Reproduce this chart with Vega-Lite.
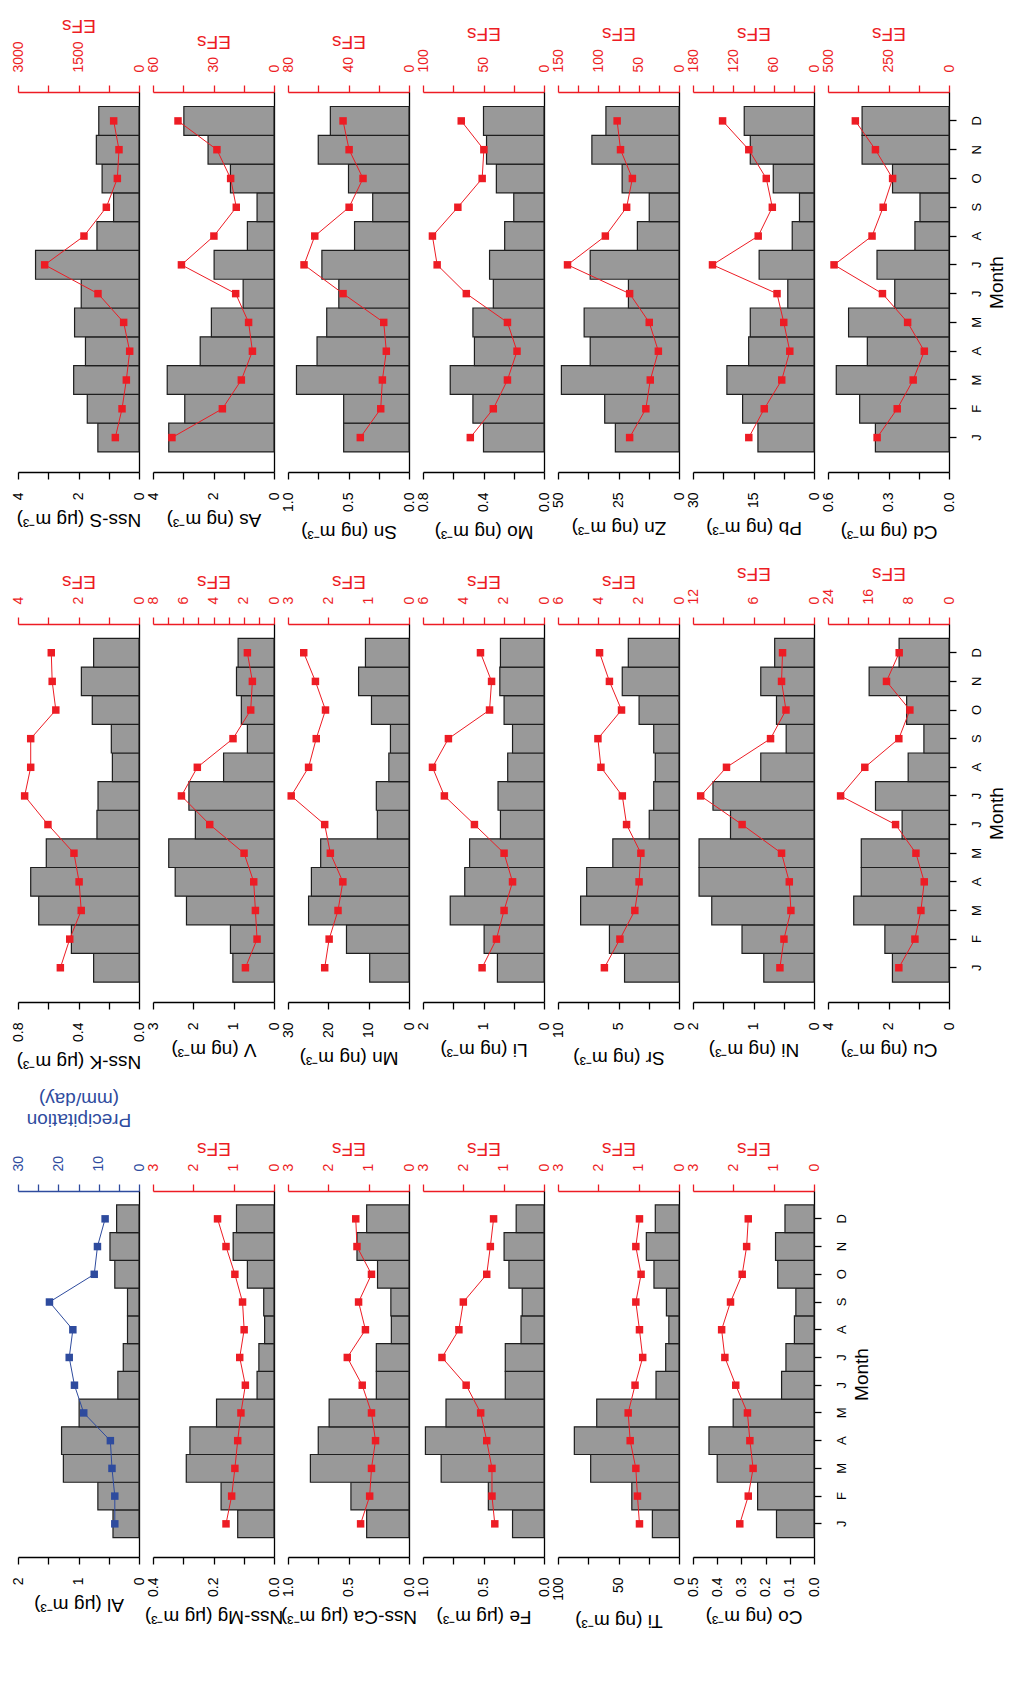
{
  "$schema": "https://vega.github.io/schema/vega-lite/v6.json",
  "background": "white",
  "autosize": {"type": "pad"},
  "padding": {"left": 10, "top": 15, "right": 0, "bottom": 0},
  "datasets": {
    "Al": [{"m":1,"v":0.43,"f":6.0},{"m":2,"v":0.68,"f":6.0},{"m":3,"v":1.25,"f":6.7},{"m":4,"v":1.28,"f":7.1},{"m":5,"v":0.99,"f":13.7},{"m":6,"v":0.35,"f":16.0},{"m":7,"v":0.26,"f":17.3},{"m":8,"v":0.19,"f":16.4},{"m":9,"v":0.19,"f":22.2},{"m":10,"v":0.40,"f":11.1},{"m":11,"v":0.48,"f":10.3},{"m":12,"v":0.37,"f":8.4}],
    "Nss-Mg": [{"m":1,"v":0.12,"f":1.19},{"m":2,"v":0.175,"f":1.05},{"m":3,"v":0.29,"f":0.97},{"m":4,"v":0.278,"f":0.90},{"m":5,"v":0.19,"f":0.82},{"m":6,"v":0.056,"f":0.71},{"m":7,"v":0.05,"f":0.85},{"m":8,"v":0.031,"f":0.74},{"m":9,"v":0.034,"f":0.78},{"m":10,"v":0.088,"f":0.97},{"m":11,"v":0.135,"f":1.19},{"m":12,"v":0.124,"f":1.40}],
    "Nss-Ca": [{"m":1,"v":0.35,"f":1.20},{"m":2,"v":0.48,"f":0.975},{"m":3,"v":0.815,"f":0.93},{"m":4,"v":0.75,"f":0.83},{"m":5,"v":0.66,"f":0.93},{"m":6,"v":0.27,"f":1.16},{"m":7,"v":0.27,"f":1.53},{"m":8,"v":0.146,"f":1.08},{"m":9,"v":0.15,"f":1.25},{"m":10,"v":0.26,"f":0.93},{"m":11,"v":0.43,"f":1.29},{"m":12,"v":0.35,"f":1.32}],
    "Fe": [{"m":1,"v":0.26,"f":1.22},{"m":2,"v":0.46,"f":1.29},{"m":3,"v":0.85,"f":1.29},{"m":4,"v":0.98,"f":1.42},{"m":5,"v":0.81,"f":1.57},{"m":6,"v":0.32,"f":1.93},{"m":7,"v":0.32,"f":2.53},{"m":8,"v":0.19,"f":2.11},{"m":9,"v":0.18,"f":2.0},{"m":10,"v":0.29,"f":1.42},{"m":11,"v":0.33,"f":1.33},{"m":12,"v":0.23,"f":1.25}],
    "Ti": [{"m":1,"v":22,"f":0.98},{"m":2,"v":39,"f":1.03},{"m":3,"v":73,"f":1.07},{"m":4,"v":86.5,"f":1.21},{"m":5,"v":68,"f":1.26},{"m":6,"v":19,"f":1.09},{"m":7,"v":11,"f":0.90},{"m":8,"v":8.4,"f":0.98},{"m":9,"v":10.4,"f":1.07},{"m":10,"v":20.7,"f":0.94},{"m":11,"v":27,"f":1.07},{"m":12,"v":19.6,"f":0.98}],
    "Co": [{"m":1,"v":0.155,"f":1.84},{"m":2,"v":0.233,"f":1.63},{"m":3,"v":0.40,"f":1.51},{"m":4,"v":0.434,"f":1.59},{"m":5,"v":0.334,"f":1.65},{"m":6,"v":0.134,"f":1.94},{"m":7,"v":0.116,"f":2.21},{"m":8,"v":0.081,"f":2.29},{"m":9,"v":0.075,"f":2.07},{"m":10,"v":0.15,"f":1.78},{"m":11,"v":0.159,"f":1.67},{"m":12,"v":0.12,"f":1.63}],
    "Nss-K": [{"m":1,"v":0.30,"f":2.60},{"m":2,"v":0.447,"f":2.29},{"m":3,"v":0.663,"f":1.91},{"m":4,"v":0.716,"f":1.98},{"m":5,"v":0.613,"f":2.15},{"m":6,"v":0.278,"f":3.01},{"m":7,"v":0.271,"f":3.78},{"m":8,"v":0.176,"f":3.58},{"m":9,"v":0.183,"f":3.58},{"m":10,"v":0.309,"f":2.75},{"m":11,"v":0.381,"f":2.87},{"m":12,"v":0.30,"f":2.90}],
    "V": [{"m":1,"v":1.02,"f":1.89},{"m":2,"v":1.08,"f":1.12},{"m":3,"v":2.17,"f":1.23},{"m":4,"v":2.45,"f":1.34},{"m":5,"v":2.61,"f":1.98},{"m":6,"v":1.95,"f":4.25},{"m":7,"v":2.11,"f":6.12},{"m":8,"v":1.25,"f":5.07},{"m":9,"v":0.66,"f":2.71},{"m":10,"v":0.81,"f":1.54},{"m":11,"v":0.93,"f":1.43},{"m":12,"v":0.89,"f":1.76}],
    "Mn": [{"m":1,"v":9.75,"f":2.09},{"m":2,"v":15.5,"f":1.98},{"m":3,"v":24.9,"f":1.76},{"m":4,"v":24.2,"f":1.64},{"m":5,"v":21.9,"f":1.95},{"m":6,"v":7.85,"f":2.09},{"m":7,"v":8.1,"f":2.92},{"m":8,"v":5.0,"f":2.49},{"m":9,"v":4.6,"f":2.30},{"m":10,"v":9.3,"f":2.07},{"m":11,"v":12.5,"f":2.32},{"m":12,"v":10.8,"f":2.61}],
    "Li": [{"m":1,"v":0.77,"f":3.07},{"m":2,"v":0.99,"f":2.36},{"m":3,"v":1.55,"f":1.98},{"m":4,"v":1.31,"f":1.56},{"m":5,"v":1.23,"f":1.98},{"m":6,"v":0.72,"f":3.45},{"m":7,"v":0.76,"f":4.94},{"m":8,"v":0.60,"f":5.53},{"m":9,"v":0.52,"f":4.74},{"m":10,"v":0.66,"f":2.70},{"m":11,"v":0.73,"f":2.60},{"m":12,"v":0.72,"f":3.15}],
    "Sr": [{"m":1,"v":4.5,"f":3.70},{"m":2,"v":5.75,"f":2.93},{"m":3,"v":8.13,"f":2.19},{"m":4,"v":7.63,"f":1.98},{"m":5,"v":5.47,"f":1.89},{"m":6,"v":2.46,"f":2.60},{"m":7,"v":2.09,"f":2.81},{"m":8,"v":1.96,"f":3.87},{"m":9,"v":2.09,"f":4.02},{"m":10,"v":3.30,"f":2.85},{"m":11,"v":4.69,"f":3.45},{"m":12,"v":4.19,"f":3.94}],
    "Ni": [{"m":1,"v":0.83,"f":3.38},{"m":2,"v":1.19,"f":2.98},{"m":3,"v":1.69,"f":2.29},{"m":4,"v":1.90,"f":2.45},{"m":5,"v":1.90,"f":3.22},{"m":6,"v":1.38,"f":7.13},{"m":7,"v":1.67,"f":11.24},{"m":8,"v":0.88,"f":8.68},{"m":9,"v":0.46,"f":4.31},{"m":10,"v":0.62,"f":2.78},{"m":11,"v":0.88,"f":3.22},{"m":12,"v":0.65,"f":3.12}],
    "Cu": [{"m":1,"v":1.87,"f":9.95},{"m":2,"v":2.12,"f":6.76},{"m":3,"v":3.15,"f":5.57},{"m":4,"v":2.90,"f":4.91},{"m":5,"v":2.90,"f":6.56},{"m":6,"v":1.55,"f":10.6},{"m":7,"v":2.43,"f":21.5},{"m":8,"v":1.35,"f":16.7},{"m":9,"v":0.83,"f":9.95},{"m":10,"v":1.40,"f":7.76},{"m":11,"v":2.64,"f":12.4},{"m":12,"v":1.65,"f":9.88}],
    "Nss-S": [{"m":1,"v":1.36,"f":587},{"m":2,"v":1.71,"f":421},{"m":3,"v":2.16,"f":314},{"m":4,"v":1.77,"f":231},{"m":5,"v":2.13,"f":380},{"m":6,"v":1.91,"f":1017},{"m":7,"v":3.42,"f":2339},{"m":8,"v":1.39,"f":1364},{"m":9,"v":0.84,"f":810},{"m":10,"v":1.22,"f":537},{"m":11,"v":1.41,"f":496},{"m":12,"v":1.33,"f":628}],
    "As": [{"m":1,"v":3.48,"f":50.6},{"m":2,"v":2.95,"f":25.6},{"m":3,"v":3.53,"f":16.2},{"m":4,"v":2.44,"f":10.7},{"m":5,"v":2.07,"f":12.6},{"m":6,"v":1.02,"f":19.0},{"m":7,"v":1.98,"f":45.9},{"m":8,"v":0.88,"f":29.8},{"m":9,"v":0.56,"f":18.7},{"m":10,"v":1.44,"f":21.5},{"m":11,"v":2.18,"f":28.3},{"m":12,"v":2.98,"f":47.6}],
    "Sn": [{"m":1,"v":0.54,"f":32.2},{"m":2,"v":0.54,"f":18.7},{"m":3,"v":0.93,"f":17.6},{"m":4,"v":0.76,"f":15.0},{"m":5,"v":0.68,"f":16.7},{"m":6,"v":0.58,"f":43.6},{"m":7,"v":0.72,"f":69.4},{"m":8,"v":0.45,"f":62.3},{"m":9,"v":0.30,"f":39.6},{"m":10,"v":0.50,"f":30.4},{"m":11,"v":0.75,"f":39.6},{"m":12,"v":0.65,"f":43.6}],
    "Mo": [{"m":1,"v":0.40,"f":60.9},{"m":2,"v":0.47,"f":41.9},{"m":3,"v":0.62,"f":30.2},{"m":4,"v":0.46,"f":22.3},{"m":5,"v":0.47,"f":30.2},{"m":6,"v":0.335,"f":64.2},{"m":7,"v":0.36,"f":88.3},{"m":8,"v":0.26,"f":92.2},{"m":9,"v":0.20,"f":71.2},{"m":10,"v":0.315,"f":51.1},{"m":11,"v":0.38,"f":49.7},{"m":12,"v":0.40,"f":68.4}],
    "Zn": [{"m":1,"v":26.3,"f":61.2},{"m":2,"v":30.7,"f":41.1},{"m":3,"v":48.6,"f":35.6},{"m":4,"v":36.7,"f":25.6},{"m":5,"v":39.2,"f":36.9},{"m":6,"v":20.9,"f":61.2},{"m":7,"v":36.7,"f":138.2},{"m":8,"v":17.2,"f":91.3},{"m":9,"v":12.3,"f":64.9},{"m":10,"v":23.5,"f":57.8},{"m":11,"v":36.0,"f":72.5},{"m":12,"v":30.2,"f":76.7}],
    "Pb": [{"m":1,"v":13.9,"f":97},{"m":2,"v":17.7,"f":74},{"m":3,"v":21.6,"f":48},{"m":4,"v":16.2,"f":36},{"m":5,"v":15.8,"f":45},{"m":6,"v":6.5,"f":55},{"m":7,"v":13.6,"f":151},{"m":8,"v":5.4,"f":83},{"m":9,"v":3.6,"f":62},{"m":10,"v":10.1,"f":71},{"m":11,"v":15.8,"f":97},{"m":12,"v":17.3,"f":136}],
    "Cd": [{"m":1,"v":0.365,"f":297},{"m":2,"v":0.443,"f":214},{"m":3,"v":0.559,"f":148},{"m":4,"v":0.405,"f":102},{"m":5,"v":0.498,"f":171},{"m":6,"v":0.269,"f":275},{"m":7,"v":0.357,"f":475},{"m":8,"v":0.169,"f":318},{"m":9,"v":0.144,"f":272},{"m":10,"v":0.280,"f":233},{"m":11,"v":0.431,"f":304},{"m":12,"v":0.431,"f":387}]
  },
  "spacing": 22,
  "vconcat": [
    {
      "spacing": 14,
      "bounds": "flush",
      "hconcat": [
        {"width": 121, "height": 380, "data": {"name": "Nss-S"}, "resolve": {"scale": {"x": "independent"}}, "layer": [
          {"mark": {"type": "bar", "fill": "#999999", "stroke": "#1e1e1e", "strokeWidth": 1.2},
           "encoding": {"y": {"field": "m", "type": "ordinal", "sort": "descending", "title": null, "scale": {"paddingInner": 0, "paddingOuter": 0.6, "align": 0.42}, "axis": {"orient": "right"}},
                        "x": {"field": "v", "type": "quantitative", "title": "Nss-S (μg m⁻³)", "scale": {"domain": [0, 4], "reverse": true, "nice": false}, "axis": {"orient": "bottom", "values": [0, 1, 2, 3, 4], "format": "d", "labelExpr": "round(datum.value*1000) % 2000 === 0 ? datum.label : ''"}}}},
          {"mark": {"type": "line", "color": "#ED1C24", "strokeWidth": 1, "point": {"shape": "square", "size": 56, "color": "#ED1C24", "filled": true, "opacity": 1}},
           "encoding": {"y": {"field": "m", "type": "ordinal", "sort": "descending", "title": null, "axis": {"orient": "right"}},
                        "x": {"field": "f", "type": "quantitative", "title": "EFs", "scale": {"domain": [0, 3000], "reverse": true, "nice": false}, "axis": {"orient": "top", "values": [0, 750, 1500, 2250, 3000], "format": "d", "labelExpr": "round(datum.value) % 1500 === 0 ? datum.label : ''"}}}}
        ]},
        {"width": 121, "height": 380, "data": {"name": "As"}, "resolve": {"scale": {"x": "independent"}}, "layer": [
          {"mark": {"type": "bar", "fill": "#999999", "stroke": "#1e1e1e", "strokeWidth": 1.2},
           "encoding": {"y": {"field": "m", "type": "ordinal", "sort": "descending", "title": null, "scale": {"paddingInner": 0, "paddingOuter": 0.6, "align": 0.42}, "axis": {"orient": "right"}},
                        "x": {"field": "v", "type": "quantitative", "title": "As (ng m⁻³)", "scale": {"domain": [0, 4], "reverse": true, "nice": false}, "axis": {"orient": "bottom", "values": [0, 1, 2, 3, 4], "format": "d", "labelExpr": "round(datum.value*1000) % 2000 === 0 ? datum.label : ''"}}}},
          {"mark": {"type": "line", "color": "#ED1C24", "strokeWidth": 1, "point": {"shape": "square", "size": 56, "color": "#ED1C24", "filled": true, "opacity": 1}},
           "encoding": {"y": {"field": "m", "type": "ordinal", "sort": "descending", "title": null, "axis": {"orient": "right"}},
                        "x": {"field": "f", "type": "quantitative", "title": "EFs", "scale": {"domain": [0, 60], "reverse": true, "nice": false}, "axis": {"orient": "top", "values": [0, 15, 30, 45, 60], "format": "d", "labelExpr": "round(datum.value) % 30 === 0 ? datum.label : ''"}}}}
        ]},
        {"width": 121, "height": 380, "data": {"name": "Sn"}, "resolve": {"scale": {"x": "independent"}}, "layer": [
          {"mark": {"type": "bar", "fill": "#999999", "stroke": "#1e1e1e", "strokeWidth": 1.2},
           "encoding": {"y": {"field": "m", "type": "ordinal", "sort": "descending", "title": null, "scale": {"paddingInner": 0, "paddingOuter": 0.6, "align": 0.42}, "axis": {"orient": "right"}},
                        "x": {"field": "v", "type": "quantitative", "title": "Sn (ng m⁻³)", "scale": {"domain": [0, 1], "reverse": true, "nice": false}, "axis": {"orient": "bottom", "values": [0, 0.25, 0.5, 0.75, 1], "format": ".1f", "labelExpr": "round(datum.value*1000) % 500 === 0 ? datum.label : ''"}}}},
          {"mark": {"type": "line", "color": "#ED1C24", "strokeWidth": 1, "point": {"shape": "square", "size": 56, "color": "#ED1C24", "filled": true, "opacity": 1}},
           "encoding": {"y": {"field": "m", "type": "ordinal", "sort": "descending", "title": null, "axis": {"orient": "right"}},
                        "x": {"field": "f", "type": "quantitative", "title": "EFs", "scale": {"domain": [0, 80], "reverse": true, "nice": false}, "axis": {"orient": "top", "values": [0, 20, 40, 60, 80], "format": "d", "labelExpr": "round(datum.value) % 40 === 0 ? datum.label : ''"}}}}
        ]},
        {"width": 121, "height": 380, "data": {"name": "Mo"}, "resolve": {"scale": {"x": "independent"}}, "layer": [
          {"mark": {"type": "bar", "fill": "#999999", "stroke": "#1e1e1e", "strokeWidth": 1.2},
           "encoding": {"y": {"field": "m", "type": "ordinal", "sort": "descending", "title": null, "scale": {"paddingInner": 0, "paddingOuter": 0.6, "align": 0.42}, "axis": {"orient": "right"}},
                        "x": {"field": "v", "type": "quantitative", "title": "Mo (ng m⁻³)", "scale": {"domain": [0, 0.8], "reverse": true, "nice": false}, "axis": {"orient": "bottom", "values": [0, 0.2, 0.4, 0.6, 0.8], "format": ".1f", "labelExpr": "round(datum.value*1000) % 400 === 0 ? datum.label : ''"}}}},
          {"mark": {"type": "line", "color": "#ED1C24", "strokeWidth": 1, "point": {"shape": "square", "size": 56, "color": "#ED1C24", "filled": true, "opacity": 1}},
           "encoding": {"y": {"field": "m", "type": "ordinal", "sort": "descending", "title": null, "axis": {"orient": "right"}},
                        "x": {"field": "f", "type": "quantitative", "title": "EFs", "scale": {"domain": [0, 100], "reverse": true, "nice": false}, "axis": {"orient": "top", "values": [0, 25, 50, 75, 100], "format": "d", "labelExpr": "round(datum.value) % 50 === 0 ? datum.label : ''"}}}}
        ]},
        {"width": 121, "height": 380, "data": {"name": "Zn"}, "resolve": {"scale": {"x": "independent"}}, "layer": [
          {"mark": {"type": "bar", "fill": "#999999", "stroke": "#1e1e1e", "strokeWidth": 1.2},
           "encoding": {"y": {"field": "m", "type": "ordinal", "sort": "descending", "title": null, "scale": {"paddingInner": 0, "paddingOuter": 0.6, "align": 0.42}, "axis": {"orient": "right"}},
                        "x": {"field": "v", "type": "quantitative", "title": "Zn (ng m⁻³)", "scale": {"domain": [0, 50], "reverse": true, "nice": false}, "axis": {"orient": "bottom", "values": [0, 12.5, 25, 37.5, 50], "format": "d", "labelExpr": "round(datum.value*1000) % 25000 === 0 ? datum.label : ''"}}}},
          {"mark": {"type": "line", "color": "#ED1C24", "strokeWidth": 1, "point": {"shape": "square", "size": 56, "color": "#ED1C24", "filled": true, "opacity": 1}},
           "encoding": {"y": {"field": "m", "type": "ordinal", "sort": "descending", "title": null, "axis": {"orient": "right"}},
                        "x": {"field": "f", "type": "quantitative", "title": "EFs", "scale": {"domain": [0, 150], "reverse": true, "nice": false}, "axis": {"orient": "top", "values": [0, 25, 50, 75, 100, 125, 150], "format": "d", "labelExpr": "round(datum.value) % 50 === 0 ? datum.label : ''"}}}}
        ]},
        {"width": 121, "height": 380, "data": {"name": "Pb"}, "resolve": {"scale": {"x": "independent"}}, "layer": [
          {"mark": {"type": "bar", "fill": "#999999", "stroke": "#1e1e1e", "strokeWidth": 1.2},
           "encoding": {"y": {"field": "m", "type": "ordinal", "sort": "descending", "title": null, "scale": {"paddingInner": 0, "paddingOuter": 0.6, "align": 0.42}, "axis": {"orient": "right"}},
                        "x": {"field": "v", "type": "quantitative", "title": "Pb (ng m⁻³)", "scale": {"domain": [0, 30], "reverse": true, "nice": false}, "axis": {"orient": "bottom", "values": [0, 7.5, 15, 22.5, 30], "format": "d", "labelExpr": "round(datum.value*1000) % 15000 === 0 ? datum.label : ''"}}}},
          {"mark": {"type": "line", "color": "#ED1C24", "strokeWidth": 1, "point": {"shape": "square", "size": 56, "color": "#ED1C24", "filled": true, "opacity": 1}},
           "encoding": {"y": {"field": "m", "type": "ordinal", "sort": "descending", "title": null, "axis": {"orient": "right"}},
                        "x": {"field": "f", "type": "quantitative", "title": "EFs", "scale": {"domain": [0, 180], "reverse": true, "nice": false}, "axis": {"orient": "top", "values": [0, 30, 60, 90, 120, 150, 180], "format": "d", "labelExpr": "round(datum.value) % 60 === 0 ? datum.label : ''"}}}}
        ]},
        {"width": 121, "height": 380, "data": {"name": "Cd"}, "resolve": {"scale": {"x": "independent"}}, "layer": [
          {"mark": {"type": "bar", "fill": "#999999", "stroke": "#1e1e1e", "strokeWidth": 1.2},
           "encoding": {"y": {"field": "m", "type": "ordinal", "sort": "descending", "title": "Month", "scale": {"paddingInner": 0, "paddingOuter": 0.6, "align": 0.42}, "axis": {"orient": "right", "labels": true, "ticks": true, "labelPadding": 14, "labelFontSize": 13, "labelExpr": "['J','F','M','A','M','J','J','A','S','O','N','D'][+datum.value - 1]"}},
                        "x": {"field": "v", "type": "quantitative", "title": "Cd (ng m⁻³)", "scale": {"domain": [0, 0.6], "reverse": true, "nice": false}, "axis": {"orient": "bottom", "values": [0, 0.15, 0.3, 0.45, 0.6], "format": ".1f", "labelExpr": "round(datum.value*1000) % 300 === 0 ? datum.label : ''"}}}},
          {"mark": {"type": "line", "color": "#ED1C24", "strokeWidth": 1, "point": {"shape": "square", "size": 56, "color": "#ED1C24", "filled": true, "opacity": 1}},
           "encoding": {"y": {"field": "m", "type": "ordinal", "sort": "descending", "title": "Month", "axis": {"orient": "right", "labels": true, "ticks": true, "labelPadding": 14, "labelFontSize": 13, "labelExpr": "['J','F','M','A','M','J','J','A','S','O','N','D'][+datum.value - 1]"}},
                        "x": {"field": "f", "type": "quantitative", "title": "EFs", "scale": {"domain": [0, 500], "reverse": true, "nice": false}, "axis": {"orient": "top", "values": [0, 125, 250, 375, 500], "format": "d", "labelExpr": "round(datum.value) % 250 === 0 ? datum.label : ''"}}}}
        ]}
      ]
    },
    {
      "spacing": 17,
      "vconcat": [
        {
          "spacing": 14,
          "bounds": "flush",
          "hconcat": [
            {"width": 121, "height": 378, "data": {"name": "Nss-K"}, "resolve": {"scale": {"x": "independent"}}, "layer": [
              {"mark": {"type": "bar", "fill": "#999999", "stroke": "#1e1e1e", "strokeWidth": 1.2},
               "encoding": {"y": {"field": "m", "type": "ordinal", "sort": "descending", "title": null, "scale": {"paddingInner": 0, "paddingOuter": 0.6, "align": 0.42}, "axis": {"orient": "right"}},
                            "x": {"field": "v", "type": "quantitative", "title": "Nss-K (μg m⁻³)", "scale": {"domain": [0, 0.8], "reverse": true, "nice": false}, "axis": {"orient": "bottom", "values": [0, 0.2, 0.4, 0.6, 0.8], "format": ".1f", "labelExpr": "round(datum.value*1000) % 400 === 0 ? datum.label : ''"}}}},
              {"mark": {"type": "line", "color": "#ED1C24", "strokeWidth": 1, "point": {"shape": "square", "size": 56, "color": "#ED1C24", "filled": true, "opacity": 1}},
               "encoding": {"y": {"field": "m", "type": "ordinal", "sort": "descending", "title": null, "axis": {"orient": "right"}},
                            "x": {"field": "f", "type": "quantitative", "title": "EFs", "scale": {"domain": [0, 4], "reverse": true, "nice": false}, "axis": {"orient": "top", "values": [0, 1, 2, 3, 4], "format": "d", "labelExpr": "round(datum.value) % 2 === 0 ? datum.label : ''"}}}}
            ]},
            {"width": 121, "height": 378, "data": {"name": "V"}, "resolve": {"scale": {"x": "independent"}}, "layer": [
              {"mark": {"type": "bar", "fill": "#999999", "stroke": "#1e1e1e", "strokeWidth": 1.2},
               "encoding": {"y": {"field": "m", "type": "ordinal", "sort": "descending", "title": null, "scale": {"paddingInner": 0, "paddingOuter": 0.6, "align": 0.42}, "axis": {"orient": "right"}},
                            "x": {"field": "v", "type": "quantitative", "title": "V (ng m⁻³)", "scale": {"domain": [0, 3], "reverse": true, "nice": false}, "axis": {"orient": "bottom", "values": [0, 1, 2, 3], "format": "d"}}}},
              {"mark": {"type": "line", "color": "#ED1C24", "strokeWidth": 1, "point": {"shape": "square", "size": 56, "color": "#ED1C24", "filled": true, "opacity": 1}},
               "encoding": {"y": {"field": "m", "type": "ordinal", "sort": "descending", "title": null, "axis": {"orient": "right"}},
                            "x": {"field": "f", "type": "quantitative", "title": "EFs", "scale": {"domain": [0, 8], "reverse": true, "nice": false}, "axis": {"orient": "top", "values": [0, 1, 2, 3, 4, 5, 6, 7, 8], "format": "d", "labelExpr": "round(datum.value) % 2 === 0 ? datum.label : ''"}}}}
            ]},
            {"width": 121, "height": 378, "data": {"name": "Mn"}, "resolve": {"scale": {"x": "independent"}}, "layer": [
              {"mark": {"type": "bar", "fill": "#999999", "stroke": "#1e1e1e", "strokeWidth": 1.2},
               "encoding": {"y": {"field": "m", "type": "ordinal", "sort": "descending", "title": null, "scale": {"paddingInner": 0, "paddingOuter": 0.6, "align": 0.42}, "axis": {"orient": "right"}},
                            "x": {"field": "v", "type": "quantitative", "title": "Mn (ng m⁻³)", "scale": {"domain": [0, 30], "reverse": true, "nice": false}, "axis": {"orient": "bottom", "values": [0, 10, 20, 30], "format": "d"}}}},
              {"mark": {"type": "line", "color": "#ED1C24", "strokeWidth": 1, "point": {"shape": "square", "size": 56, "color": "#ED1C24", "filled": true, "opacity": 1}},
               "encoding": {"y": {"field": "m", "type": "ordinal", "sort": "descending", "title": null, "axis": {"orient": "right"}},
                            "x": {"field": "f", "type": "quantitative", "title": "EFs", "scale": {"domain": [0, 3], "reverse": true, "nice": false}, "axis": {"orient": "top", "values": [0, 1, 2, 3], "format": "d"}}}}
            ]},
            {"width": 121, "height": 378, "data": {"name": "Li"}, "resolve": {"scale": {"x": "independent"}}, "layer": [
              {"mark": {"type": "bar", "fill": "#999999", "stroke": "#1e1e1e", "strokeWidth": 1.2},
               "encoding": {"y": {"field": "m", "type": "ordinal", "sort": "descending", "title": null, "scale": {"paddingInner": 0, "paddingOuter": 0.6, "align": 0.42}, "axis": {"orient": "right"}},
                            "x": {"field": "v", "type": "quantitative", "title": "Li (ng m⁻³)", "scale": {"domain": [0, 2], "reverse": true, "nice": false}, "axis": {"orient": "bottom", "values": [0, 0.5, 1, 1.5, 2], "format": ".0f", "labelExpr": "datum.value === 0.5 || datum.value === 1.5 ? '' : datum.label"}}}},
              {"mark": {"type": "line", "color": "#ED1C24", "strokeWidth": 1, "point": {"shape": "square", "size": 56, "color": "#ED1C24", "filled": true, "opacity": 1}},
               "encoding": {"y": {"field": "m", "type": "ordinal", "sort": "descending", "title": null, "axis": {"orient": "right"}},
                            "x": {"field": "f", "type": "quantitative", "title": "EFs", "scale": {"domain": [0, 6], "reverse": true, "nice": false}, "axis": {"orient": "top", "values": [0, 1, 2, 3, 4, 5, 6], "format": "d", "labelExpr": "round(datum.value) % 2 === 0 ? datum.label : ''"}}}}
            ]},
            {"width": 121, "height": 378, "data": {"name": "Sr"}, "resolve": {"scale": {"x": "independent"}}, "layer": [
              {"mark": {"type": "bar", "fill": "#999999", "stroke": "#1e1e1e", "strokeWidth": 1.2},
               "encoding": {"y": {"field": "m", "type": "ordinal", "sort": "descending", "title": null, "scale": {"paddingInner": 0, "paddingOuter": 0.6, "align": 0.42}, "axis": {"orient": "right"}},
                            "x": {"field": "v", "type": "quantitative", "title": "Sr (ng m⁻³)", "scale": {"domain": [0, 10], "reverse": true, "nice": false}, "axis": {"orient": "bottom", "values": [0, 2.5, 5, 7.5, 10], "format": "d", "labelExpr": "round(datum.value*1000) % 5000 === 0 ? datum.label : ''"}}}},
              {"mark": {"type": "line", "color": "#ED1C24", "strokeWidth": 1, "point": {"shape": "square", "size": 56, "color": "#ED1C24", "filled": true, "opacity": 1}},
               "encoding": {"y": {"field": "m", "type": "ordinal", "sort": "descending", "title": null, "axis": {"orient": "right"}},
                            "x": {"field": "f", "type": "quantitative", "title": "EFs", "scale": {"domain": [0, 6], "reverse": true, "nice": false}, "axis": {"orient": "top", "values": [0, 1, 2, 3, 4, 5, 6], "format": "d", "labelExpr": "round(datum.value) % 2 === 0 ? datum.label : ''"}}}}
            ]},
            {"width": 121, "height": 378, "data": {"name": "Ni"}, "resolve": {"scale": {"x": "independent"}}, "layer": [
              {"mark": {"type": "bar", "fill": "#999999", "stroke": "#1e1e1e", "strokeWidth": 1.2},
               "encoding": {"y": {"field": "m", "type": "ordinal", "sort": "descending", "title": null, "scale": {"paddingInner": 0, "paddingOuter": 0.6, "align": 0.42}, "axis": {"orient": "right"}},
                            "x": {"field": "v", "type": "quantitative", "title": "Ni (ng m⁻³)", "scale": {"domain": [0, 2], "reverse": true, "nice": false}, "axis": {"orient": "bottom", "values": [0, 0.5, 1, 1.5, 2], "format": ".0f", "labelExpr": "datum.value === 0.5 || datum.value === 1.5 ? '' : datum.label"}}}},
              {"mark": {"type": "line", "color": "#ED1C24", "strokeWidth": 1, "point": {"shape": "square", "size": 56, "color": "#ED1C24", "filled": true, "opacity": 1}},
               "encoding": {"y": {"field": "m", "type": "ordinal", "sort": "descending", "title": null, "axis": {"orient": "right"}},
                            "x": {"field": "f", "type": "quantitative", "title": "EFs", "scale": {"domain": [0, 12], "reverse": true, "nice": false}, "axis": {"orient": "top", "values": [0, 3, 6, 9, 12], "format": "d", "labelExpr": "round(datum.value) % 6 === 0 ? datum.label : ''"}}}}
            ]},
            {"width": 121, "height": 378, "data": {"name": "Cu"}, "resolve": {"scale": {"x": "independent"}}, "layer": [
              {"mark": {"type": "bar", "fill": "#999999", "stroke": "#1e1e1e", "strokeWidth": 1.2},
               "encoding": {"y": {"field": "m", "type": "ordinal", "sort": "descending", "title": "Month", "scale": {"paddingInner": 0, "paddingOuter": 0.6, "align": 0.42}, "axis": {"orient": "right", "labels": true, "ticks": true, "labelPadding": 14, "labelFontSize": 13, "labelExpr": "['J','F','M','A','M','J','J','A','S','O','N','D'][+datum.value - 1]"}},
                            "x": {"field": "v", "type": "quantitative", "title": "Cu (ng m⁻³)", "scale": {"domain": [0, 4], "reverse": true, "nice": false}, "axis": {"orient": "bottom", "values": [0, 1, 2, 3, 4], "format": "d", "labelExpr": "round(datum.value*1000) % 2000 === 0 ? datum.label : ''"}}}},
              {"mark": {"type": "line", "color": "#ED1C24", "strokeWidth": 1, "point": {"shape": "square", "size": 56, "color": "#ED1C24", "filled": true, "opacity": 1}},
               "encoding": {"y": {"field": "m", "type": "ordinal", "sort": "descending", "title": "Month", "axis": {"orient": "right", "labels": true, "ticks": true, "labelPadding": 14, "labelFontSize": 13, "labelExpr": "['J','F','M','A','M','J','J','A','S','O','N','D'][+datum.value - 1]"}},
                            "x": {"field": "f", "type": "quantitative", "title": "EFs", "scale": {"domain": [0, 24], "reverse": true, "nice": false}, "axis": {"orient": "top", "values": [0, 4, 8, 12, 16, 20, 24], "format": "d", "labelExpr": "round(datum.value) % 8 === 0 ? datum.label : ''"}}}}
            ]}
          ]
        },
        {
          "spacing": 14,
          "bounds": "flush",
          "hconcat": [
            {"width": 121, "height": 366, "data": {"name": "Al"}, "resolve": {"scale": {"x": "independent"}}, "layer": [
              {"mark": {"type": "bar", "fill": "#999999", "stroke": "#1e1e1e", "strokeWidth": 1.2},
               "encoding": {"y": {"field": "m", "type": "ordinal", "sort": "descending", "title": null, "scale": {"paddingInner": 0, "paddingOuter": 0.6, "align": 0.42}, "axis": {"orient": "right"}},
                            "x": {"field": "v", "type": "quantitative", "title": "Al (μg m⁻³)", "scale": {"domain": [0, 2], "reverse": true, "nice": false}, "axis": {"orient": "bottom", "values": [0, 0.5, 1, 1.5, 2], "format": ".0f", "labelExpr": "datum.value === 0.5 || datum.value === 1.5 ? '' : datum.label"}}}},
              {"mark": {"type": "line", "color": "#2E4B9E", "strokeWidth": 1, "point": {"shape": "square", "size": 56, "color": "#2E4B9E", "filled": true, "opacity": 1}},
               "encoding": {"y": {"field": "m", "type": "ordinal", "sort": "descending", "title": null, "axis": {"orient": "right"}},
                            "x": {"field": "f", "type": "quantitative", "title": ["Precipitation", "(mm/day)"], "scale": {"domain": [0, 30], "reverse": true, "nice": false}, "axis": {"orient": "top", "values": [0, 5, 10, 15, 20, 25, 30], "format": "d", "labelExpr": "round(datum.value) % 10 === 0 ? datum.label : ''", "domainColor": "#2E4B9E", "tickColor": "#2E4B9E", "labelColor": "#2E4B9E", "titleColor": "#2E4B9E"}}}}
            ]},
            {"width": 121, "height": 366, "data": {"name": "Nss-Mg"}, "resolve": {"scale": {"x": "independent"}}, "layer": [
              {"mark": {"type": "bar", "fill": "#999999", "stroke": "#1e1e1e", "strokeWidth": 1.2},
               "encoding": {"y": {"field": "m", "type": "ordinal", "sort": "descending", "title": null, "scale": {"paddingInner": 0, "paddingOuter": 0.6, "align": 0.42}, "axis": {"orient": "right"}},
                            "x": {"field": "v", "type": "quantitative", "title": "Nss-Mg (μg m⁻³)", "scale": {"domain": [0, 0.4], "reverse": true, "nice": false}, "axis": {"orient": "bottom", "values": [0, 0.1, 0.2, 0.3, 0.4], "format": ".1f", "labelExpr": "round(datum.value*1000) % 200 === 0 ? datum.label : ''"}}}},
              {"mark": {"type": "line", "color": "#ED1C24", "strokeWidth": 1, "point": {"shape": "square", "size": 56, "color": "#ED1C24", "filled": true, "opacity": 1}},
               "encoding": {"y": {"field": "m", "type": "ordinal", "sort": "descending", "title": null, "axis": {"orient": "right"}},
                            "x": {"field": "f", "type": "quantitative", "title": "EFs", "scale": {"domain": [0, 3], "reverse": true, "nice": false}, "axis": {"orient": "top", "values": [0, 1, 2, 3], "format": "d"}}}}
            ]},
            {"width": 121, "height": 366, "data": {"name": "Nss-Ca"}, "resolve": {"scale": {"x": "independent"}}, "layer": [
              {"mark": {"type": "bar", "fill": "#999999", "stroke": "#1e1e1e", "strokeWidth": 1.2},
               "encoding": {"y": {"field": "m", "type": "ordinal", "sort": "descending", "title": null, "scale": {"paddingInner": 0, "paddingOuter": 0.6, "align": 0.42}, "axis": {"orient": "right"}},
                            "x": {"field": "v", "type": "quantitative", "title": "Nss-Ca (μg m⁻³)", "scale": {"domain": [0, 1], "reverse": true, "nice": false}, "axis": {"orient": "bottom", "values": [0, 0.25, 0.5, 0.75, 1], "format": ".1f", "labelExpr": "round(datum.value*1000) % 500 === 0 ? datum.label : ''"}}}},
              {"mark": {"type": "line", "color": "#ED1C24", "strokeWidth": 1, "point": {"shape": "square", "size": 56, "color": "#ED1C24", "filled": true, "opacity": 1}},
               "encoding": {"y": {"field": "m", "type": "ordinal", "sort": "descending", "title": null, "axis": {"orient": "right"}},
                            "x": {"field": "f", "type": "quantitative", "title": "EFs", "scale": {"domain": [0, 3], "reverse": true, "nice": false}, "axis": {"orient": "top", "values": [0, 1, 2, 3], "format": "d"}}}}
            ]},
            {"width": 121, "height": 366, "data": {"name": "Fe"}, "resolve": {"scale": {"x": "independent"}}, "layer": [
              {"mark": {"type": "bar", "fill": "#999999", "stroke": "#1e1e1e", "strokeWidth": 1.2},
               "encoding": {"y": {"field": "m", "type": "ordinal", "sort": "descending", "title": null, "scale": {"paddingInner": 0, "paddingOuter": 0.6, "align": 0.42}, "axis": {"orient": "right"}},
                            "x": {"field": "v", "type": "quantitative", "title": "Fe (μg m⁻³)", "scale": {"domain": [0, 1], "reverse": true, "nice": false}, "axis": {"orient": "bottom", "values": [0, 0.25, 0.5, 0.75, 1], "format": ".1f", "labelExpr": "round(datum.value*1000) % 500 === 0 ? datum.label : ''"}}}},
              {"mark": {"type": "line", "color": "#ED1C24", "strokeWidth": 1, "point": {"shape": "square", "size": 56, "color": "#ED1C24", "filled": true, "opacity": 1}},
               "encoding": {"y": {"field": "m", "type": "ordinal", "sort": "descending", "title": null, "axis": {"orient": "right"}},
                            "x": {"field": "f", "type": "quantitative", "title": "EFs", "scale": {"domain": [0, 3], "reverse": true, "nice": false}, "axis": {"orient": "top", "values": [0, 1, 2, 3], "format": "d"}}}}
            ]},
            {"width": 121, "height": 366, "data": {"name": "Ti"}, "resolve": {"scale": {"x": "independent"}}, "layer": [
              {"mark": {"type": "bar", "fill": "#999999", "stroke": "#1e1e1e", "strokeWidth": 1.2},
               "encoding": {"y": {"field": "m", "type": "ordinal", "sort": "descending", "title": null, "scale": {"paddingInner": 0, "paddingOuter": 0.6, "align": 0.42}, "axis": {"orient": "right"}},
                            "x": {"field": "v", "type": "quantitative", "title": "Ti (ng m⁻³)", "scale": {"domain": [0, 100], "reverse": true, "nice": false}, "axis": {"orient": "bottom", "values": [0, 25, 50, 75, 100], "format": "d", "labelExpr": "round(datum.value) % 50 === 0 ? datum.label : ''"}}}},
              {"mark": {"type": "line", "color": "#ED1C24", "strokeWidth": 1, "point": {"shape": "square", "size": 56, "color": "#ED1C24", "filled": true, "opacity": 1}},
               "encoding": {"y": {"field": "m", "type": "ordinal", "sort": "descending", "title": null, "axis": {"orient": "right"}},
                            "x": {"field": "f", "type": "quantitative", "title": "EFs", "scale": {"domain": [0, 3], "reverse": true, "nice": false}, "axis": {"orient": "top", "values": [0, 1, 2, 3], "format": "d"}}}}
            ]},
            {"width": 121, "height": 366, "data": {"name": "Co"}, "resolve": {"scale": {"x": "independent"}}, "layer": [
              {"mark": {"type": "bar", "fill": "#999999", "stroke": "#1e1e1e", "strokeWidth": 1.2},
               "encoding": {"y": {"field": "m", "type": "ordinal", "sort": "descending", "title": "Month", "scale": {"paddingInner": 0, "paddingOuter": 0.6, "align": 0.42}, "axis": {"orient": "right", "labels": true, "ticks": true, "labelPadding": 14, "labelFontSize": 13, "labelExpr": "['J','F','M','A','M','J','J','A','S','O','N','D'][+datum.value - 1]"}},
                            "x": {"field": "v", "type": "quantitative", "title": "Co (ng m⁻³)", "scale": {"domain": [0, 0.5], "reverse": true, "nice": false}, "axis": {"orient": "bottom", "values": [0, 0.1, 0.2, 0.3, 0.4, 0.5], "format": ".1f"}}}},
              {"mark": {"type": "line", "color": "#ED1C24", "strokeWidth": 1, "point": {"shape": "square", "size": 56, "color": "#ED1C24", "filled": true, "opacity": 1}},
               "encoding": {"y": {"field": "m", "type": "ordinal", "sort": "descending", "title": "Month", "axis": {"orient": "right", "labels": true, "ticks": true, "labelPadding": 14, "labelFontSize": 13, "labelExpr": "['J','F','M','A','M','J','J','A','S','O','N','D'][+datum.value - 1]"}},
                            "x": {"field": "f", "type": "quantitative", "title": "EFs", "scale": {"domain": [0, 3], "reverse": true, "nice": false}, "axis": {"orient": "top", "values": [0, 1, 2, 3], "format": "d"}}}}
            ]}
          ]
        }
      ]
    }
  ],
  "config": {
    "font": "Liberation Sans",
    "view": {"stroke": null},
    "axis": {"grid": false, "labelFont": "Liberation Sans", "titleFont": "Liberation Sans", "labelFontSize": 14, "titleFontSize": 19, "titleFontWeight": "normal", "domainColor": "#000000", "tickColor": "#000000", "labelColor": "#000000", "titleColor": "#000000", "tickSize": 7, "domainWidth": 1.3, "tickWidth": 1.3, "labelFlush": false, "labelOverlap": false, "labelPadding": 13, "titlePadding": 6},
    "axisBottom": {"labelAngle": -90, "labelAlign": "right", "labelBaseline": "middle", "titleAngle": 180, "titleBaseline": "bottom", "titlePadding": 10},
    "axisTop": {"labelAngle": -90, "labelAlign": "left", "labelBaseline": "middle", "titleAngle": 180, "titleBaseline": "top", "domainColor": "#ED1C24", "tickColor": "#ED1C24", "labelColor": "#ED1C24", "titleColor": "#ED1C24"},
    "axisRight": {"labels": false, "ticks": false, "labelAngle": -90, "labelAlign": "center", "labelBaseline": "top", "titleAngle": -90, "titleBaseline": "top", "tickSize": 7, "titlePadding": 4}
  }
}
